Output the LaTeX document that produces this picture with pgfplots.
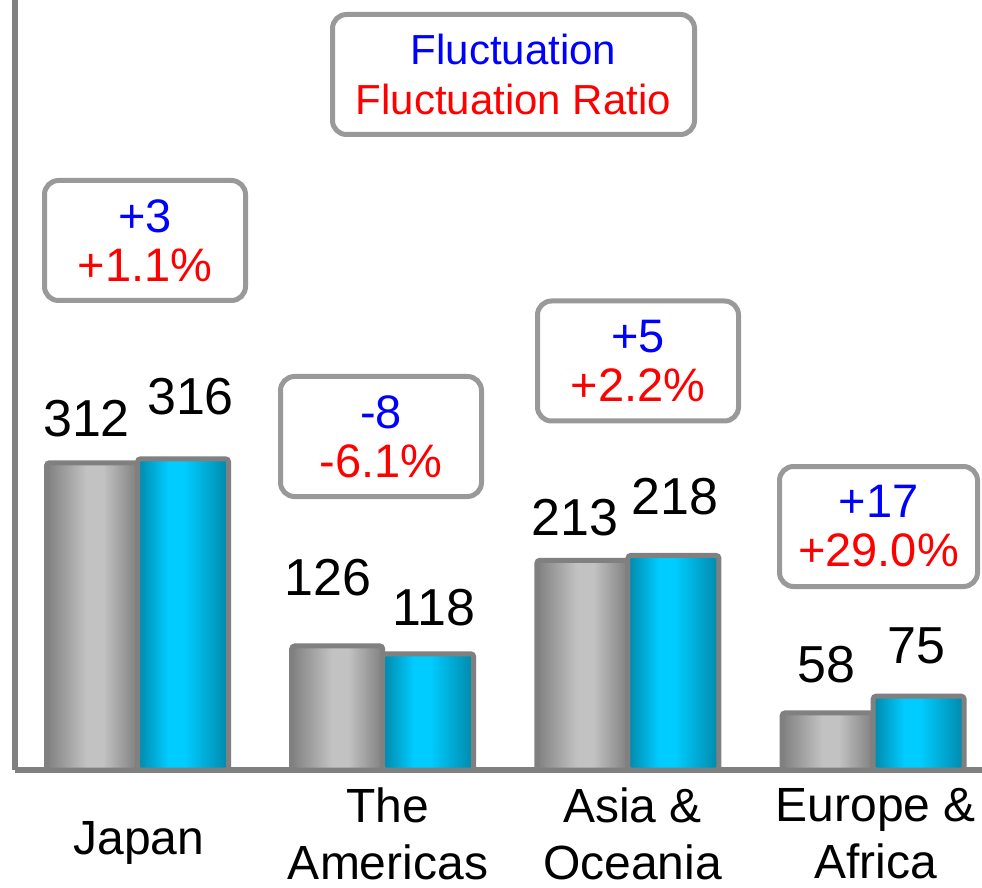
\documentclass[border=0pt]{standalone}
\usepackage{fontspec}
\setmainfont{Liberation Sans}
\usepackage{pgfplots}
\usepackage{pgfplotstable}
\pgfplotsset{compat=1.18}
\definecolor{axgray}{HTML}{808080}
\definecolor{boxgray}{HTML}{999999}
\definecolor{gdark}{HTML}{808080}
\definecolor{glight}{HTML}{C2C2C2}
\definecolor{cdark}{HTML}{0088AA}
\definecolor{clight}{HTML}{00CCFF}
\definecolor{fblue}{HTML}{0000FF}
\definecolor{fred}{HTML}{FF0000}
\pgfdeclarehorizontalshading{grayshade}{100bp}{color(0bp)=(gdark); color(25bp)=(gdark); color(47bp)=(glight); color(56bp)=(glight); color(75bp)=(gdark); color(100bp)=(gdark)}
\pgfdeclarehorizontalshading{cyanshade}{100bp}{color(0bp)=(cdark); color(25bp)=(cdark); color(42bp)=(clight); color(51bp)=(clight); color(75bp)=(cdark); color(100bp)=(cdark)}

\pgfplotstableread{
x y lbl xo yo
0 312 312 -5.5 44.3
1 126 126 -9 68
2 213 213 -7.4 42.3
3 58 58 -1.6 47.9
}\prev
\pgfplotstableread{
x y lbl xo yo
0 316 316 7.5 62.3
1 118 118 6 45.8
2 218 218 1.6 58.3
3 75 75 -2.6 50.1
}\curr

\tikzset{fbox/.style={draw=boxgray, line width=5pt, rounded corners=14pt, fill=white,
  minimum width=201pt, minimum height=120pt, align=center, inner sep=0pt,
  font=\fontsize{47}{49}\selectfont}}

\begin{document}
\begin{tikzpicture}
\begin{axis}[
  scale only axis, width=967pt, height=770pt,
  xmin=-0.4996, xmax=3.444, ymin=0, ymax=782,
  axis x line*=bottom, axis y line*=left,
  axis line style={draw=axgray, line width=6pt, -},
  ytick=\empty, xtick={0.006,1.0216,2.019,3.011}, major tick length=0pt,
  xticklabels={\raisebox{-20pt}[0pt][0pt]{Japan},{The\\Americas},{Asia \&\\Oceania},{Europe \&\\Africa}},
  xticklabel style={font=\fontsize{48}{57}\selectfont, align=center, anchor=center, yshift=-64pt},
  ybar, bar width=91pt,
  clip=false,
  nodes near coords={\pgfplotspointmeta}, point meta=explicit symbolic,
  visualization depends on={\thisrow{xo} \as \xo},
  visualization depends on={\thisrow{yo} \as \yo},
  every node near coord/.append style={anchor=center, xshift=\xo pt, yshift=\yo pt,
     font=\fontsize{52}{60}\selectfont, text=black},
]
\pgfplotsinvokeforeach{0,1,2,3}{
\addplot[bar shift=-45.5pt, draw=axgray, line width=5pt, rounded corners=3pt,
   shade, shading=grayshade, restrict x to domain=#1:#1]
   table[x=x, y=y, meta=lbl]{\prev};
\addplot[bar shift=45.5pt, draw=axgray, line width=5pt, rounded corners=3pt,
   shade, shading=cyanshade, restrict x to domain=#1:#1]
   table[x=x, y=y, meta=lbl]{\curr};
}
\end{axis}
\node[fbox, minimum width=362pt, font=\fontsize{42}{50}\selectfont] at (498.5pt,695.5pt)
  {\textcolor{fblue}{Fluctuation}\\\textcolor{fred}{Fluctuation Ratio}};
\node[fbox] at (130pt,529.5pt) {\textcolor{fblue}{+3}\\\textcolor{fred}{+1.1\%}};
\node[fbox] at (366pt,333.5pt) {\textcolor{fblue}{-8}\\\textcolor{fred}{-6.1\%}};
\node[fbox] at (623pt,409pt) {\textcolor{fblue}{+5}\\\textcolor{fred}{+2.2\%}};
\node[fbox, minimum width=198pt] at (863.5pt,243.5pt) {\textcolor{fblue}{+17}\\\textcolor{fred}{+29.0\%}};
\pgfresetboundingbox
\path (-15pt,-117pt) rectangle (967pt,770pt);
\end{tikzpicture}
\end{document}
